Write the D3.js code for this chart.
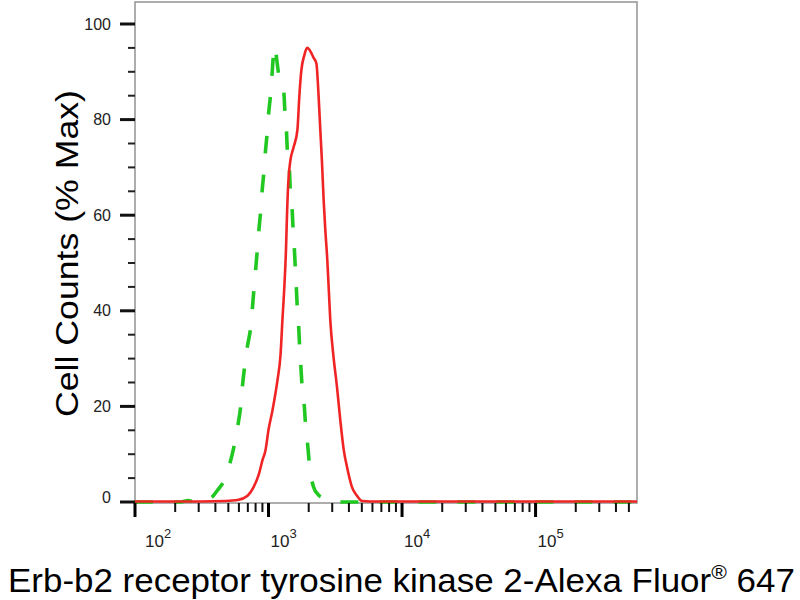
<!DOCTYPE html>
<html>
<head>
<meta charset="utf-8">
<script src="https://cdn.jsdelivr.net/npm/d3@7/dist/d3.min.js"></script>
<style>
  html, body { margin: 0; padding: 0; background: #fff; }
  svg { display: block; font-family: "Liberation Sans", Arial, sans-serif; }
</style>
</head>
<body>
<svg id="chart" width="800" height="600"></svg>
<script>
// ---- data ----
const xMajorTicks = [1e2, 1e3, 1e4, 1e5];
const xMajorExponents = ["2", "3", "4", "5"];
const yMajorTicks = [0, 20, 40, 60, 80, 100];
const yTickLabels = ["0", "20", "40", "60", "80", "100"];

// stained sample (red, solid)
const sampleX = [100, 311, 477, 587, 697, 773, 842, 902, 950, 1000, 1071, 1128, 1167, 1230, 1271, 1316, 1351, 1379, 1410, 1459,
  1537, 1645, 1703, 1763, 1856, 1945, 2024, 2094, 2179, 2282, 2374, 2443, 2516, 2587, 2663, 2756, 2827, 2901, 3056, 3256,
  3446, 3659, 3886, 4217, 4596, 5027, 5772, 575000];
const sampleY = [0.1, 0.1, 0.2, 0.4, 1.3, 3.1, 5.6, 8.8, 10.9, 15.1, 19.2, 22.8, 25.5, 30.8, 38.1, 45.4, 52.7, 61.1, 67.4, 71.5,
  74.1, 77.8, 85.1, 90.4, 93.5, 95.0, 94.6, 93.9, 92.9, 91.8, 84.7, 77.8, 70.9, 63.2, 56.9, 50.6, 44.4, 38.1, 30.8, 24.1,
  17.2, 10.9, 7.1, 3.1, 1.3, 0.2, 0.1, 0.1];

// isotype control (green, dashed)
const controlX = [100, 220, 249, 285, 339, 380, 416, 459, 514, 551, 590, 618, 637, 662, 694, 734, 777, 824, 847, 872,
  897, 922, 950, 977, 1005, 1035, 1066, 1097, 1119, 1148, 1194, 1301, 1328, 1362, 1386, 1434, 1459, 1503, 1529, 1563,
  1590, 1618, 1646, 1683, 1712, 1748, 1784, 1856, 1898, 1965, 2033, 2178, 2361, 2586, 2988, 575000];
const controlY = [0, 0, 0.3, 0, 0.4, 1.1, 2.5, 4.2, 8.1, 11.6, 16.1, 19.9, 24.1, 28.3, 32.5, 36.4, 44.4, 52.7, 56.9, 60.7,
  65.3, 68.8, 73.6, 77.2, 81.7, 85.1, 90.0, 94.6, 95.4, 92.9, 89.3, 85.8, 81.4, 77.8, 73.0, 69.5, 64.6, 61.1, 56.9, 52.7,
  48.5, 44.4, 40.2, 36.6, 32.2, 28.2, 24.1, 19.9, 15.7, 11.9, 7.3, 3.1, 1.5, 0.8, 0, 0];

const xTitle = "Erb-b2 receptor tyrosine kinase 2-Alexa Fluor";
const xTitleSup = "®";
const xTitleEnd = " 647";
const yTitle = "Cell Counts (% Max)";

// ---- scales ----
const svg = d3.select("#chart");
const plotL = 135, plotR = 637, plotT = 2, plotB = 503;
const x = d3.scaleLog().domain([100, 575000]).range([plotL, plotR]);
const y = d3.scaleLinear().domain([0, 100]).range([502, 24]);

// ---- frame ----
svg.append("rect")
  .attr("x", plotL).attr("y", plotT)
  .attr("width", plotR - plotL).attr("height", plotB - plotT)
  .attr("fill", "none").attr("stroke", "#999").attr("stroke-width", 1.6);

// ---- curves ----
const line = d3.line()
  .x(d => x(d[0]))
  .y(d => y(d[1]))
  .curve(d3.curveMonotoneX);

const controlData = controlX.map((v, i) => [v, controlY[i]]);
const sampleData = sampleX.map((v, i) => [v, sampleY[i]]);

svg.append("path")
  .datum(controlData)
  .attr("d", line)
  .attr("fill", "none")
  .attr("stroke", "#22c822")
  .attr("stroke-width", 3.6)
  .attr("stroke-dasharray", "18,21");

svg.append("path")
  .datum(sampleData)
  .attr("d", line)
  .attr("fill", "none")
  .attr("stroke", "#f02424")
  .attr("stroke-width", 2.6);

// ---- y axis ticks ----
const yMinor = d3.range(0, 101, 5).filter(v => v % 20 !== 0);
const gy = svg.append("g");
gy.selectAll("line.maj").data(yMajorTicks).join("line")
  .attr("x1", 120).attr("x2", plotL)
  .attr("y1", d => y(d)).attr("y2", d => y(d))
  .attr("stroke", "#111").attr("stroke-width", 3);
gy.selectAll("line.min").data(yMinor).join("line")
  .attr("x1", 128).attr("x2", plotL)
  .attr("y1", d => y(d)).attr("y2", d => y(d))
  .attr("stroke", "#222").attr("stroke-width", 2);
gy.selectAll("text").data(yMajorTicks).join("text")
  .attr("x", 111)
  .attr("y", (d, i) => y(d) + (d === 0 ? -5 : 0))
  .attr("dy", "0.35em")
  .attr("text-anchor", "end")
  .attr("font-size", 16)
  .attr("fill", "#222")
  .text((d, i) => yTickLabels[i]);

// ---- x axis ticks ----
const xMinor = [];
[1e2, 1e3, 1e4, 1e5].forEach(dec => {
  for (let k = 2; k <= 9; k++) {
    const v = dec * k;
    if (v <= x.domain()[1]) xMinor.push(v);
  }
});
const gx = svg.append("g");
gx.selectAll("line.maj").data(xMajorTicks).join("line")
  .attr("x1", d => x(d)).attr("x2", d => x(d))
  .attr("y1", plotB).attr("y2", 517)
  .attr("stroke", "#000").attr("stroke-width", 3);
gx.selectAll("line.min").data(xMinor).join("line")
  .attr("x1", d => x(d)).attr("x2", d => x(d))
  .attr("y1", plotB).attr("y2", 512)
  .attr("stroke", "#111").attr("stroke-width", 2);
const xl = gx.selectAll("text").data(xMajorTicks).join("text")
  .attr("x", (d, i) => x(d) + (i === 0 ? 10 : 2))
  .attr("y", 547)
  .attr("font-size", 17)
  .attr("fill", "#222");
xl.append("tspan").text("10");
xl.append("tspan").attr("font-size", 13).attr("dy", -9).text((d, i) => xMajorExponents[i]);

// ---- titles ----
const xt = svg.append("text")
  .attr("x", 0).attr("y", 0)
  .attr("font-size", 33)
  .attr("fill", "#000");
xt.append("tspan").text(xTitle);
xt.append("tspan").attr("font-size", 20).attr("dy", -13).text(xTitleSup);
xt.append("tspan").attr("dy", 13).text(xTitleEnd);
const xtLen = xt.node().getComputedTextLength();
xt.attr("transform", `translate(8,592) scale(${787 / xtLen},1)`);

const yt = svg.append("text")
  .attr("x", 0).attr("y", 0)
  .attr("text-anchor", "middle")
  .attr("font-size", 31)
  .attr("fill", "#000")
  .text(yTitle);
const ytLen = yt.node().getComputedTextLength();
yt.attr("transform", `translate(78,253.5) rotate(-90) scale(${327 / ytLen},1)`);
</script>
</body>
</html>
